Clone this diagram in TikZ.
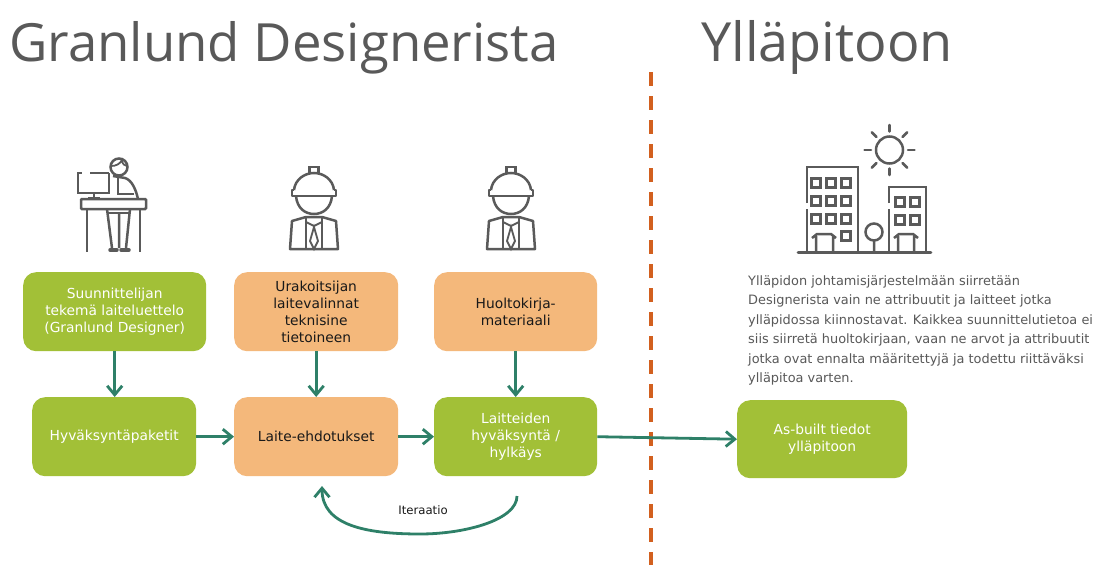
\documentclass[tikz,border=0pt]{standalone}
\usepackage{fontspec}
\setmainfont{DejaVu Sans}
\newfontfamily\titlefont{Open Sans}
\usetikzlibrary{arrows.meta}
\definecolor{gbox}{HTML}{A2C037}
\definecolor{obox}{HTML}{F4B87B}
\definecolor{arrowc}{HTML}{2E8068}
\definecolor{dashc}{HTML}{D2601F}
\definecolor{iconc}{HTML}{5A5A5A}
\definecolor{titlec}{HTML}{595959}
\tikzset{
  x=1pt,y=-1pt,
  boxbase/.style={rounded corners=13pt,minimum height=79pt,align=center,font=\fontsize{13.8}{17}\selectfont,inner sep=2pt,anchor=north west},
  greenbox/.style={boxbase,fill=gbox,text=white},
  orangebox/.style={boxbase,fill=obox,text=black!90},
  flow/.style={draw=arrowc,line width=2.8pt,-{Straight Barb[length=9pt,width=15pt,line width=2.8pt]}},
  icon/.style={draw=iconc,line width=2.5pt},
  titletext/.style={font=\titlefont\fontsize{52.7}{60}\selectfont,text=titlec,inner sep=0pt,anchor=base west},
  worker/.pic={
    \draw[icon] (-4.5,174) -- (-4.5,167) -- (4.5,167) -- (4.5,174);
    \draw[icon] (-20,190) .. controls (-19,180) and (-10,173) .. (0,173) .. controls (10,173) and (19,180) .. (20,190);
    \draw[icon,line join=round] (-20,190) -- (-22,190) -- (-22,196) -- (22,196) -- (22,190) -- (20,190);
    \draw[icon] (-18,196) .. controls (-17,208) and (-9,214) .. (0,214) .. controls (9,214) and (17,208) .. (18,196);
    \draw[icon,line join=round] (-24,249) -- (-22,221) -- (-8,217) -- (8,217) -- (22,221) -- (24,249) -- cycle;
    \draw[icon] (-8,217) -- (-8,249) (8,217) -- (8,249);
    \draw[icon,line width=1.8pt] (-8,222) -- (0,226) -- (8,222);
    \draw[icon,line width=1.8pt] (0,227) -- (-4,241) -- (0,249) -- (4,241) -- cycle;
  },
}
\newcommand{\winat}[2]{\draw[icon,line width=2.3pt] (#1-4.5,#2-4.5) rectangle (#1+4.5,#2+4.5);}
\begin{document}
\begin{tikzpicture}
\useasboundingbox (0,0) rectangle (1096,565);
\fill[white] (0,0) rectangle (1096,565);

\node[titletext] (t1) at (9,61) {Granlund Designerista};
\node[titletext,font=\titlefont\fontsize{54}{60}\selectfont] (t2) at (701,61) {Ylläpitoon};

\draw[dashc,line width=3.4pt,dash pattern=on 14pt off 10pt] (651,72) -- (651,565);

% boxes
\node[greenbox,minimum width=183pt] (g1) at (23,272) {Suunnittelijan\\tekemä laiteluettelo\\(Granlund Designer)};
\node[orangebox,minimum width=164pt] (o1) at (234,272) {Urakoitsijan\\laitevalinnat\\teknisine\\tietoineen};
\node[orangebox,minimum width=163pt] (o2) at (434,272) {Huoltokirja-\\materiaali};
\node[greenbox,minimum width=164pt] (g2) at (32,397) {Hyväksyntäpaketit};
\node[orangebox,minimum width=164pt] (o3) at (234,397) {Laite-ehdotukset};
\node[greenbox,minimum width=163pt] (g3) at (434,397) {Laitteiden\\hyväksyntä /\\hylkäys};
\node[greenbox,minimum width=170pt,minimum height=78pt] (g4) at (737,400) {As-built tiedot\\ylläpitoon};

% connectors
\draw[flow] (g1.south) -- (g1.south |- g2.north);
\draw[flow] (o1.south) -- (o3.north);
\draw[flow] (o2.south) -- (g3.north);
\draw[flow] (g2.east) -- (o3.west);
\draw[flow] (o3.east) -- (g3.west);
\draw[flow] (g3.east) -- (g4.west);
\coordinate (itstart) at (517,496);
\coordinate (itend) at (322,486);
\draw[flow] (itstart) .. controls (517,520) and (465,534) .. (420,534) .. controls (365,534) and (322,525) .. (itend);
\node[font=\fontsize{11.7}{12}\selectfont,text=black!90,inner sep=0pt] (it) at (423,510) {Iteraatio};

% paragraph
\node[font=\fontsize{12.9}{19.5}\selectfont,text=titlec,align=left,anchor=north west,inner sep=0pt] (para) at (748,275) {Ylläpidon johtamisjärjestelmään siirretään\\Designerista vain ne attribuutit ja laitteet jotka\\ylläpidossa kiinnostavat. Kaikkea suunnittelutietoa ei\\siis siirretä huoltokirjaan, vaan ne arvot ja attribuutit\\jotka ovat ennalta määritettyjä ja todettu riittäväksi\\ylläpitoa varten.};

% desk person icon
\draw[icon] (119,167) circle (8.5);
\draw[icon,line width=1.8pt] (111,166) .. controls (116,166) and (120,164) .. (122,160) .. controls (122,164) and (125,166) .. (127,166);
\draw[icon] (109,173) -- (109,193) -- (78,193) -- (78,173) -- (82,173) (90,173) -- (109,173);
\draw[icon] (94,193) -- (94,197) (88,198) -- (100,198);
\draw[icon] (113,176) -- (125,178) .. controls (132,180) and (136,190) .. (138,199);
\draw[icon] (118,177) -- (118,194) -- (134,194);
\draw[icon,rounded corners=1pt] (81,199) rectangle (146,209);
\draw[icon] (87,209) -- (87,252) (140,209) -- (140,252);
\draw[icon] (107,209) -- (112,248) (130,209) -- (126,248) (119,212) -- (119,248);
\draw[icon] (108,213) -- (131,213);
\draw[icon,line width=3.5pt,line cap=round] (110,250) -- (117,250) (121,250) -- (129,250);

% workers
\pic at (314,0) {worker};
\pic at (511,0) {worker};

% sun
\draw[icon] (889.5,150) circle (13.5);
\foreach \a in {0,45,...,315} {\draw[icon,line cap=round] (889.5,150) ++(\a:18.5) -- ++(\a:6.5);}

% buildings
\draw[icon] (807,203) -- (807,167) -- (858,167) -- (858,252) (807,209) -- (807,252);
\draw[icon] (889,203) -- (889,187) -- (926,187) -- (926,252) (889,209) -- (889,252);
\foreach \y in {183,201,219} \foreach \x in {816,831,846} {\winat{\x}{\y}}
\winat{846}{236}
\foreach \y in {202,220} \foreach \x in {900,915} {\winat{\x}{\y}}
\draw[icon] (812,238) -- (817,234) -- (831,234) -- (836,238) (816,236) -- (816,252) (833,236) -- (833,252);
\draw[icon] (894,238) -- (899,234) -- (913,234) -- (918,238) (898,236) -- (898,252) (914,236) -- (914,252);
\draw[icon] (874,232) circle (8.5) (874,240.5) -- (874,252);
\draw[icon,line width=2.6pt,line cap=round] (798,252.5) -- (931,252.5);
\end{tikzpicture}
\end{document}
